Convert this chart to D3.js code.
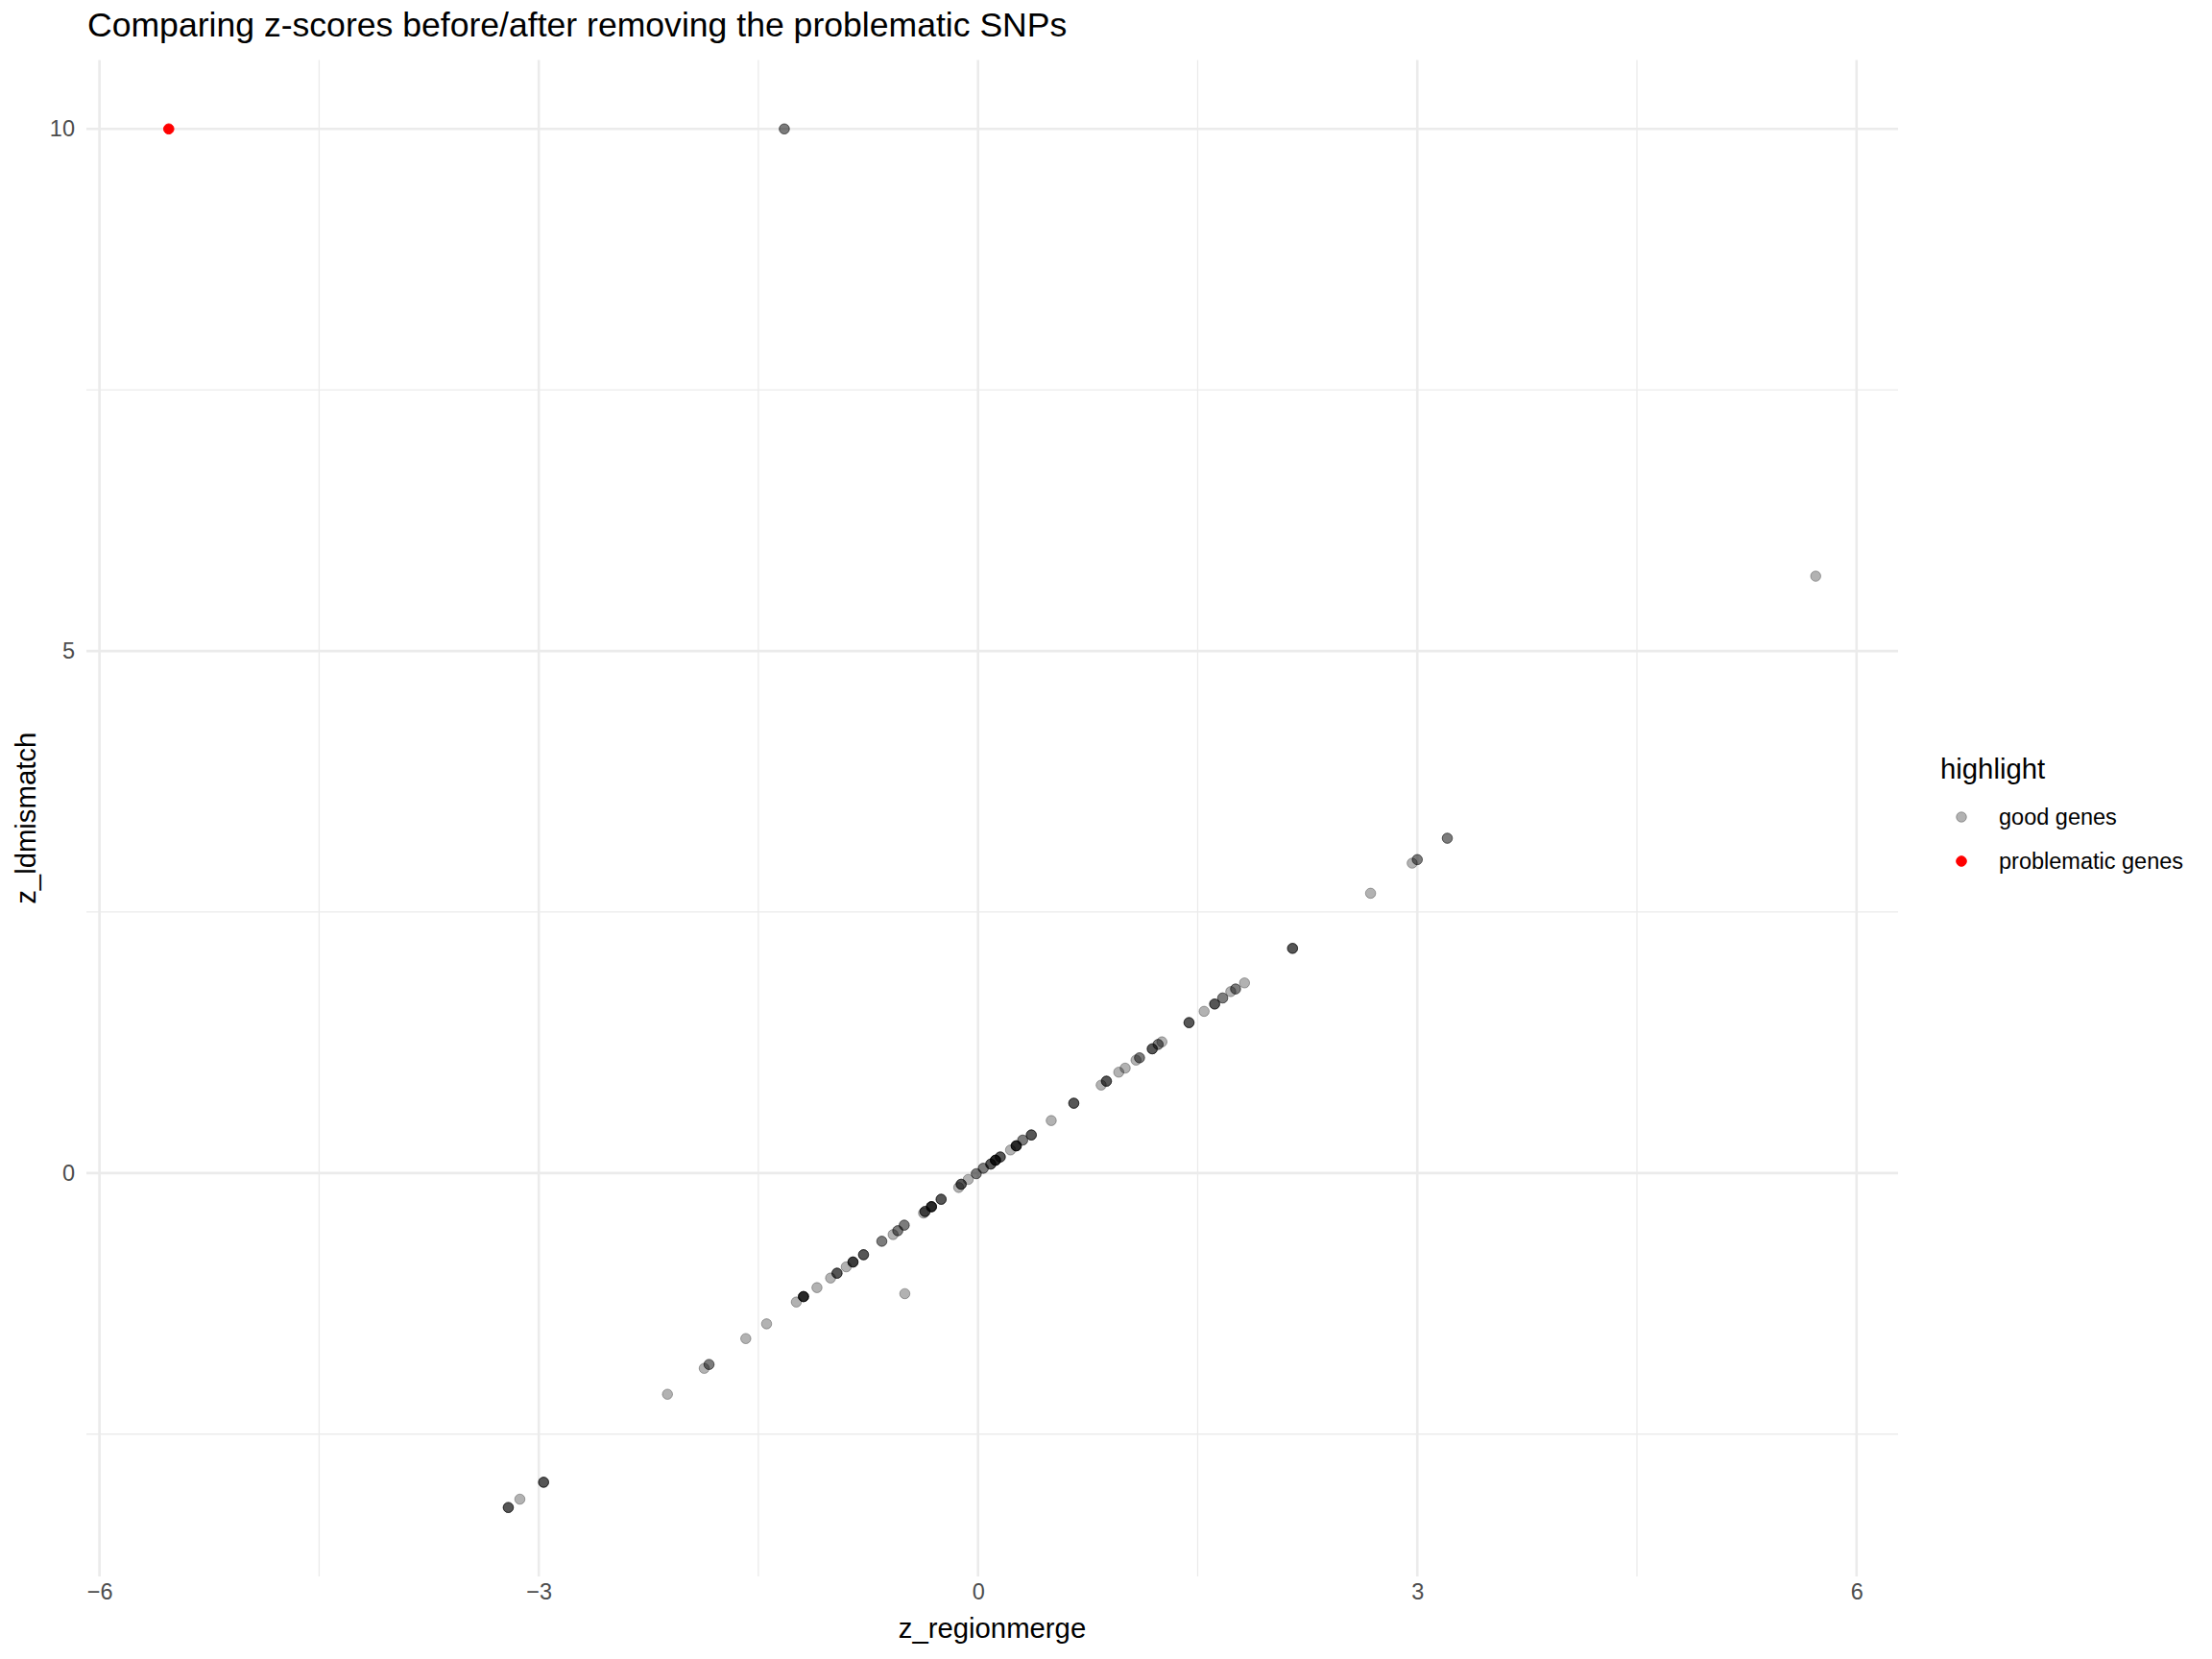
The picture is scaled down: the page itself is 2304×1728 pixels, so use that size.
<!DOCTYPE html>
<html>
<head>
<meta charset="utf-8">
<script src="https://cdn.jsdelivr.net/npm/d3@7"></script>
<style>
  html, body { margin: 0; padding: 0; background: #ffffff; }
  svg { display: block; }
  text { font-family: "Liberation Sans", Arial, Helvetica, sans-serif; }
</style>
</head>
<body>
<svg id="chart" width="2304" height="1728"></svg>
<script>
// ---- data ----
const chartTitle = "Comparing z-scores before/after removing the problematic SNPs";
const xLabel = "z_regionmerge";
const yLabel = "z_ldmismatch";
const legendTitle = "highlight";
const groups = ["good genes", "problematic genes"];

// good genes: z_regionmerge, z_ldmismatch, and how many genes sit on (almost) the same spot
const goodX = [-1.323, 5.721, 3.205, 3.000, 2.965, 2.681, 2.148, 1.820, 1.759, 1.726, 1.671, 1.616, 1.544, 1.441,
  1.256, 1.230, 1.190, 1.103, 1.079, 1.005, 0.961, 0.877, 0.841, 0.654, 0.500, 0.364, 0.305, 0.261, 0.222,
  0.152, 0.119, 0.087, 0.036, -0.012, -0.067, -0.115, -0.132, -0.252, -0.318, -0.362, -0.372, -0.504, -0.548,
  -0.580, -0.657, -0.782, -0.854, -0.900, -0.963, -1.007, -1.100, -1.192, -1.241, -0.500, -1.444, -1.586,
  -1.837, -1.870, -2.121, -2.967, -3.129, -3.208];
const goodY = [10.000, 5.717, 3.207, 3.002, 2.968, 2.680, 2.152, 1.821, 1.763, 1.738, 1.677, 1.619, 1.549, 1.441,
  1.257, 1.232, 1.190, 1.104, 1.082, 1.005, 0.966, 0.880, 0.843, 0.669, 0.503, 0.365, 0.316, 0.261, 0.221,
  0.154, 0.123, 0.086, 0.046, -0.006, -0.061, -0.107, -0.138, -0.251, -0.322, -0.368, -0.383, -0.499, -0.552,
  -0.589, -0.653, -0.782, -0.852, -0.898, -0.959, -1.005, -1.097, -1.183, -1.235, -1.155, -1.444, -1.585,
  -1.833, -1.870, -2.118, -2.961, -3.123, -3.203];
const goodN = [2, 1, 2, 2, 1, 1, 3, 1, 2, 1, 2, 3, 1, 3,
  1, 2, 3, 2, 1, 1, 1, 3, 1, 3, 1, 3, 2, 5, 1,
  3, 5, 3, 2, 2, 1, 3, 1, 3, 5, 3, 1, 2, 2,
  1, 2, 3, 4, 1, 3, 1, 1, 5, 1, 1, 1, 1,
  2, 1, 1, 3, 1, 3];

// problematic genes
const probX = [-5.527];
const probY = [10.000];

const xTicks = [-6, -3, 0, 3, 6];
const xMinor = [-4.5, -1.5, 1.5, 4.5];
const yTicks = [0, 5, 10];
const yMinor = [-2.5, 2.5, 7.5];

// ---- build rows ----
const rows = [];
goodX.forEach((x, i) => {
  for (let k = 0; k < goodN[i]; k++) rows.push({x: x, y: goodY[i], g: groups[0]});
});
probX.forEach((x, i) => rows.push({x: x, y: probY[i], g: groups[1]}));

// ---- layout ----
const svg = d3.select("#chart");
const panel = {left: 90, right: 1977, top: 62.5, bottom: 1642};

function expand(ext) {
  const pad = (ext[1] - ext[0]) * 0.05;
  return [ext[0] - pad, ext[1] + pad];
}
const x = d3.scaleLinear().domain(expand(d3.extent(rows, d => d.x))).range([panel.left, panel.right]);
const y = d3.scaleLinear().domain(expand(d3.extent(rows, d => d.y))).range([panel.bottom, panel.top]);

const grid = svg.append("g");
grid.selectAll(".xminor").data(xMinor).join("line")
  .attr("x1", d => x(d)).attr("x2", d => x(d))
  .attr("y1", panel.top).attr("y2", panel.bottom)
  .attr("stroke", "#ebebeb").attr("stroke-width", 1.3);
grid.selectAll(".yminor").data(yMinor).join("line")
  .attr("y1", d => y(d)).attr("y2", d => y(d))
  .attr("x1", panel.left).attr("x2", panel.right)
  .attr("stroke", "#ebebeb").attr("stroke-width", 1.3);
grid.selectAll(".xmajor").data(xTicks).join("line")
  .attr("x1", d => x(d)).attr("x2", d => x(d))
  .attr("y1", panel.top).attr("y2", panel.bottom)
  .attr("stroke", "#ebebeb").attr("stroke-width", 2.6);
grid.selectAll(".ymajor").data(yTicks).join("line")
  .attr("y1", d => y(d)).attr("y2", d => y(d))
  .attr("x1", panel.left).attr("x2", panel.right)
  .attr("stroke", "#ebebeb").attr("stroke-width", 2.6);

// axes via d3 axis generators (labels only)
const xAxis = svg.append("g").attr("transform", `translate(0,${panel.bottom})`)
  .call(d3.axisBottom(x).tickValues(xTicks).tickFormat(d3.format("d")).tickSize(0).tickPadding(7));
const yAxis = svg.append("g").attr("transform", `translate(${panel.left},0)`)
  .call(d3.axisLeft(y).tickValues(yTicks).tickFormat(d3.format("d")).tickSize(0).tickPadding(12));
[xAxis, yAxis].forEach(a => {
  a.select(".domain").remove();
  a.selectAll("text").attr("fill", "#4d4d4d").style("font-size", "23.5px")
    .style("font-family", "'Liberation Sans', Arial, sans-serif");
});

// points
const colour = d3.scaleOrdinal().domain(groups).range(["#000000", "#ff0000"]);
const alpha = d3.scaleOrdinal().domain(groups).range([0.3, 1]);
svg.append("g").selectAll("circle").data(rows).join("circle")
  .attr("cx", d => x(d.x)).attr("cy", d => y(d.y))
  .attr("r", 5.3)
  .attr("fill", d => colour(d.g)).attr("fill-opacity", d => alpha(d.g))
  .attr("stroke", d => colour(d.g)).attr("stroke-opacity", d => alpha(d.g))
  .attr("stroke-width", 1.0);

// titles
svg.append("text").attr("x", 91).attr("y", 38)
  .attr("fill", "#000").style("font-size", "35.6px").text(chartTitle);
svg.append("text").attr("x", (panel.left + panel.right) / 2).attr("y", 1706)
  .attr("text-anchor", "middle").attr("fill", "#000").style("font-size", "29.3px").text(xLabel);
svg.append("text")
  .attr("transform", `translate(37,${(panel.top + panel.bottom) / 2}) rotate(-90)`)
  .attr("text-anchor", "middle").attr("fill", "#000").style("font-size", "29.3px").text(yLabel);

// legend
const lg = svg.append("g");
lg.append("text").attr("x", 2021).attr("y", 811).attr("fill", "#000")
  .style("font-size", "29.3px").text(legendTitle);
const keyY = d3.scalePoint().domain(groups).range([851, 897]);
groups.forEach(g => {
  lg.append("circle").attr("cx", 2043).attr("cy", keyY(g)).attr("r", 5.3)
    .attr("fill", colour(g)).attr("fill-opacity", alpha(g))
    .attr("stroke", colour(g)).attr("stroke-opacity", alpha(g)).attr("stroke-width", 1.0);
  lg.append("text").attr("x", 2082).attr("y", keyY(g) + 8).attr("fill", "#000")
    .style("font-size", "23.5px").text(g);
});
</script>
</body>
</html>
